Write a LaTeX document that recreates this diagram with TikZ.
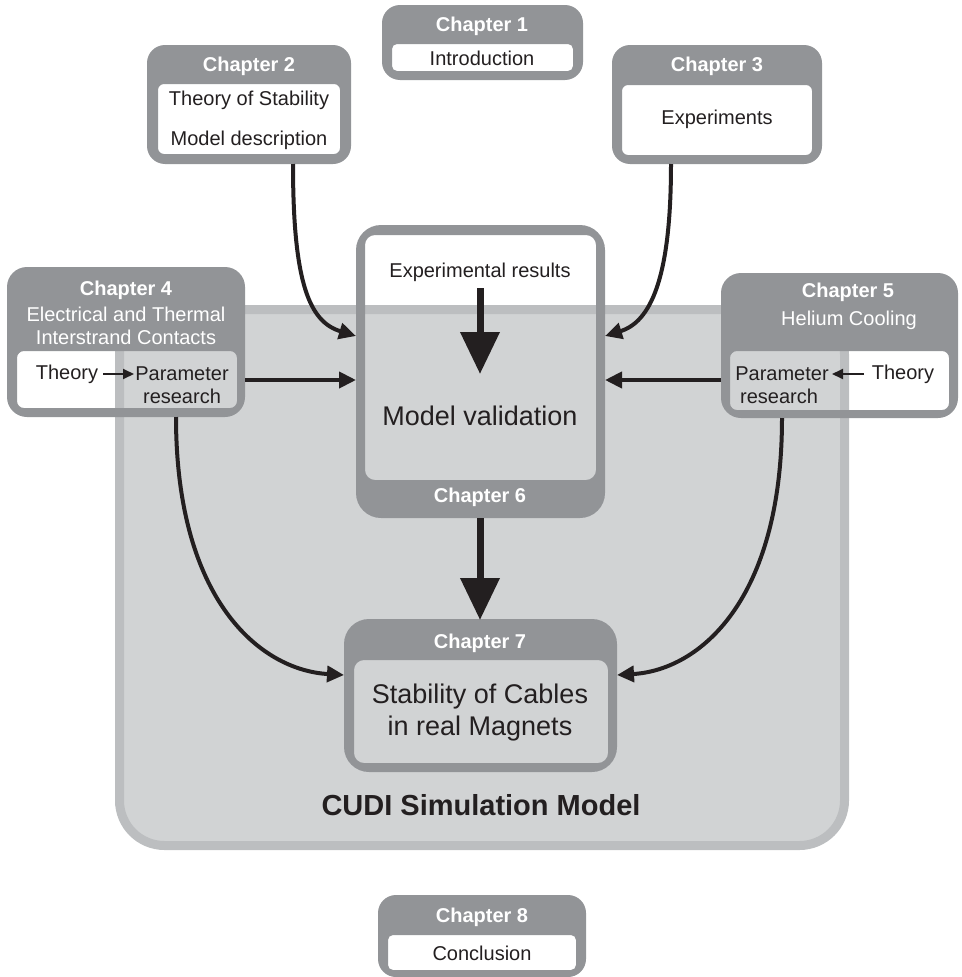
\documentclass[tikz,border=0pt]{standalone}
\usepackage{fontspec}
\setmainfont{Liberation Sans}
\usetikzlibrary{arrows.meta,calc}
\definecolor{chapgray}{RGB}{146,148,151}
\definecolor{bigfill}{RGB}{209,211,212}
\definecolor{bigborder}{RGB}{188,190,192}
\definecolor{ink}{RGB}{35,31,32}
\tikzset{
  ring/.style={fill=chapgray, even odd rule},
  head/.style={text=white, font=\bfseries\fontsize{20}{24}\selectfont, inner sep=0},
  sub/.style={text=white, font=\fontsize{20}{24}\selectfont, inner sep=0},
  txt/.style={text=ink, font=\fontsize{20}{24}\selectfont, inner sep=0},
  bigtxt/.style={text=ink, font=\fontsize{27}{32}\selectfont, inner sep=0},
  conn/.style={draw=ink, line width=4, -{Triangle[width=16pt,length=17pt]}},
  thin/.style={draw=ink, line width=2, -{Triangle[width=10pt,length=11pt]}},
  fat/.style={draw=ink, line width=7, -{Triangle[width=38pt,length=42pt]}}
}
\begin{document}
\begin{tikzpicture}[x=1pt,y=-1pt]
\useasboundingbox (0,0) rectangle (961,977);
% big CUDI box
\draw[fill=bigfill, draw=bigborder, line width=9, rounded corners=45] (119.5,309.5) rectangle (844.5,845.5);
\node[text=ink, font=\bfseries\fontsize{29}{34}\selectfont, inner sep=0] (cudi) at (481,805) {CUDI Simulation Model};
% chapter rings
\fill[ring] [rounded corners=18] (382,5) rectangle (583,80) [rounded corners=5] (392,44) rectangle (573,71);
\fill[ring] [rounded corners=18] (147,45) rectangle (351,164) [rounded corners=6] (158,84) rectangle (340,154);
\fill[ring] [rounded corners=18] (612,45) rectangle (822,164) [rounded corners=6] (622,85) rectangle (812,155);
\fill[ring] [rounded corners=20] (7,267) rectangle (245,417) [rounded corners=7] (17,351) rectangle (237,408);
\fill[ring] [rounded corners=20] (721,273) rectangle (958,418) [rounded corners=7] (730,351) rectangle (949,410);
\fill[ring] [rounded corners=25] (356,225) rectangle (605,518) [rounded corners=10] (365,235) rectangle (596,480);
\fill[ring] [rounded corners=25] (344,619) rectangle (617,772) [rounded corners=10] (354,660) rectangle (608,763);
\fill[ring] [rounded corners=18] (378,895) rectangle (586,977) [rounded corners=5] (388,935) rectangle (576,970);
% texts
\node[head] (h1) at (482,26) {Chapter 1};
\node[txt] (t1) at (482,58) {Introduction};
\node[head] (h2) at (249,66) {Chapter 2};
\node[txt] (t2a) at (249,100) {Theory of Stability};
\node[txt] (t2b) at (249,140) {Model description};
\node[head] (h3) at (717,66) {Chapter 3};
\node[txt] (t3) at (717,119) {Experiments};
\node[head] (h4) at (126,290) {Chapter 4};
\node[sub] (s4a) at (126,314) {Electrical and Thermal};
\node[sub] (s4b) at (126,337) {Interstrand Contacts};
\node[txt] (th4) at (67,374) {Theory};
\node[txt] (pa4) at (182,374) {Parameter};
\node[txt] (re4) at (182,396) {research};
\node[head] (h5) at (848,292) {Chapter 5};
\node[sub] (s5) at (849,320) {Helium Cooling};
\node[txt] (pa5) at (782,374) {Parameter};
\node[txt] (re5) at (779,396) {research};
\node[txt] (th5) at (903,374) {Theory};
\node[head] (h6) at (480,497) {Chapter 6};
\node[txt] (ex6) at (480,272) {Experimental results};
\node[bigtxt] (mv6) at (480,416) {Model validation};
\node[head] (h7) at (480,643) {Chapter 7};
\node[bigtxt] (s7a) at (480,697) {Stability of Cables};
\node[bigtxt] (s7b) at (480,729) {in real Magnets};
\node[head] (h8) at (482,917) {Chapter 8};
\node[txt] (t8) at (482,953) {Conclusion};
% connector anchors
\coordinate (c2out) at (293,164);
\coordinate (c3out) at (671,164);
\coordinate (c4out) at (245,380);
\coordinate (c4down) at (176,417);
\coordinate (c5out) at (721,380);
\coordinate (c5down) at (782,418);
\coordinate (c6inL1) at (356,336);
\coordinate (c6inL2) at (356,380);
\coordinate (c6inR1) at (605,336);
\coordinate (c6inR2) at (605,380);
\coordinate (c6bot) at (480,518);
\coordinate (c7top) at (480,620);
\coordinate (c7inL) at (344,675);
\coordinate (c7inR) at (617,675);
\coordinate (exA) at (480,288);
\coordinate (exB) at (480,374);
\coordinate (th4e) at (103,374);
\coordinate (pa4s) at (134,374);
\coordinate (th5s) at (864,374);
\coordinate (pa5e) at (832,374);
% connectors
\draw[conn] (c2out) .. controls (293,285) and (310,322) .. (c6inL1);
\draw[conn] (c3out) .. controls (671,280) and (650,322) .. (c6inR1);
\draw[conn] (c4out) -- (c6inL2);
\draw[conn] (c5out) -- (c6inR2);
\draw[conn] (c4down) .. controls (176,600) and (260,670) .. (c7inL);
\draw[conn] (c5down) .. controls (782,600) and (700,670) .. (c7inR);
\draw[fat] (exA) -- (exB);
\draw[fat] (c6bot) -- (c7top);
\draw[thin] (th4e) -- (pa4s);
\draw[thin] (th5s) -- (pa5e);
\end{tikzpicture}
\end{document}
